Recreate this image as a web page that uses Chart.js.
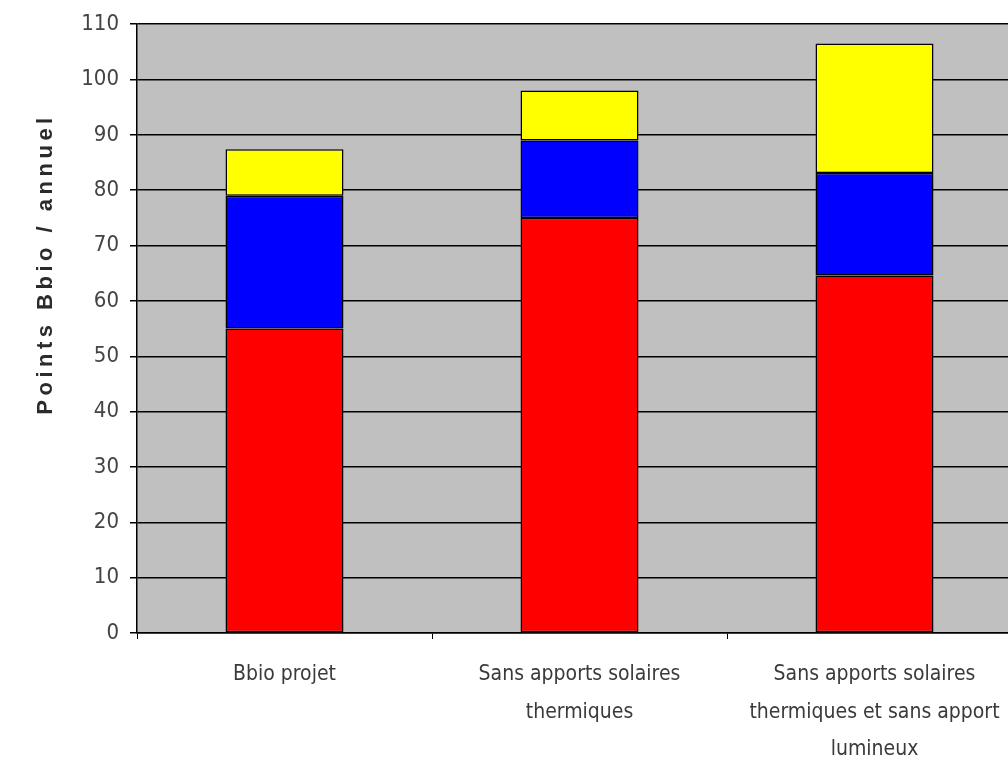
<!DOCTYPE html>
<html>
<head>
<meta charset="utf-8">
<script src="https://cdn.jsdelivr.net/npm/chart.js@4"></script>
<style>
  body { margin: 0; background: #fff; overflow: hidden; }
  #wrap { width: 1025px; height: 758px; }
</style>
</head>
<body>
<div id="wrap"><canvas id="bbioChart"></canvas></div>
<script>
// Data
const categories = [
  ['Bbio projet'],
  ['Sans apports solaires', 'thermiques'],
  ['Sans apports solaires', 'thermiques et sans apport', 'lumineux']
];
const chauffage = [55, 75, 64.6];        // red
const refroidissement = [24, 14, 18.5];  // blue
const eclairage = [8.4, 9, 23.4];        // yellow
const yTicks = [0, 10, 20, 30, 40, 50, 60, 70, 80, 90, 100, 110];
const yTitle = 'Points Bbio / annuel';

const narrow = "'Liberation Sans Narrow', 'Arial Narrow', 'DejaVu Sans Condensed', sans-serif";

// grey plot background
const plotBg = {
  id: 'plotBg',
  beforeDraw(chart) {
    const { ctx, chartArea: a } = chart;
    ctx.save();
    ctx.fillStyle = '#c0c0c0';
    ctx.fillRect(a.left, a.top, a.right - a.left, a.bottom - a.top);
    ctx.restore();
  }
};

// spaced-out vertical axis title
const yTitlePlugin = {
  id: 'yTitlePlugin',
  afterDraw(chart) {
    const ctx = chart.ctx;
    ctx.save();
    ctx.translate(46, 264);
    ctx.rotate(-Math.PI / 2);
    ctx.font = "bold 22px 'Liberation Sans', Arial, sans-serif";
    ctx.letterSpacing = '4.5px';
    ctx.fillStyle = '#2b2b2b';
    ctx.textAlign = 'center';
    ctx.textBaseline = 'middle';
    ctx.fillText(yTitle, 0, 0);
    ctx.restore();
  }
};

const segment = (label, data, color) => ({
  label: label,
  data: data,
  backgroundColor: color,
  borderColor: '#000',
  borderWidth: 1.5,
  borderSkipped: false,
  barPercentage: 0.4,
  categoryPercentage: 1
});

new Chart(document.getElementById('bbioChart'), {
  type: 'bar',
  data: {
    labels: categories,
    datasets: [
      segment('Chauffage', chauffage, '#ff0000'),
      segment('Refroidissement', refroidissement, '#0000ff'),
      segment('Eclairage', eclairage, '#ffff00')
    ]
  },
  options: {
    responsive: true,
    maintainAspectRatio: false,
    animation: false,
    layout: { padding: { top: 21, right: 3, left: 0, bottom: 0 } },
    plugins: {
      legend: { display: false },
      tooltip: { enabled: false }
    },
    scales: {
      x: {
        stacked: true,
        grid: {
          offset: true,
          drawOnChartArea: false,
          color: '#000',
          tickLength: 6
        },
        border: { color: '#000', width: 1.5 },
        ticks: {
          color: '#3a3a3a',
          padding: 17,
          maxRotation: 0,
          autoSkip: false,
          font: { family: narrow, size: 21, lineHeight: 1.78 }
        },
        afterFit(scale) { scale.height = 125; }
      },
      y: {
        stacked: true,
        min: 0,
        max: 110,
        afterBuildTicks(scale) { scale.ticks = yTicks.map(v => ({ value: v })); },
        grid: {
          color: '#000',
          lineWidth: 1.5,
          tickLength: 7
        },
        border: { color: '#000', width: 1.5 },
        ticks: {
          color: '#444',
          padding: 11,
          font: { family: narrow, size: 22 }
        },
        afterFit(scale) { scale.width = 137; }
      }
    }
  },
  plugins: [plotBg, yTitlePlugin]
});
</script>
</body>
</html>
